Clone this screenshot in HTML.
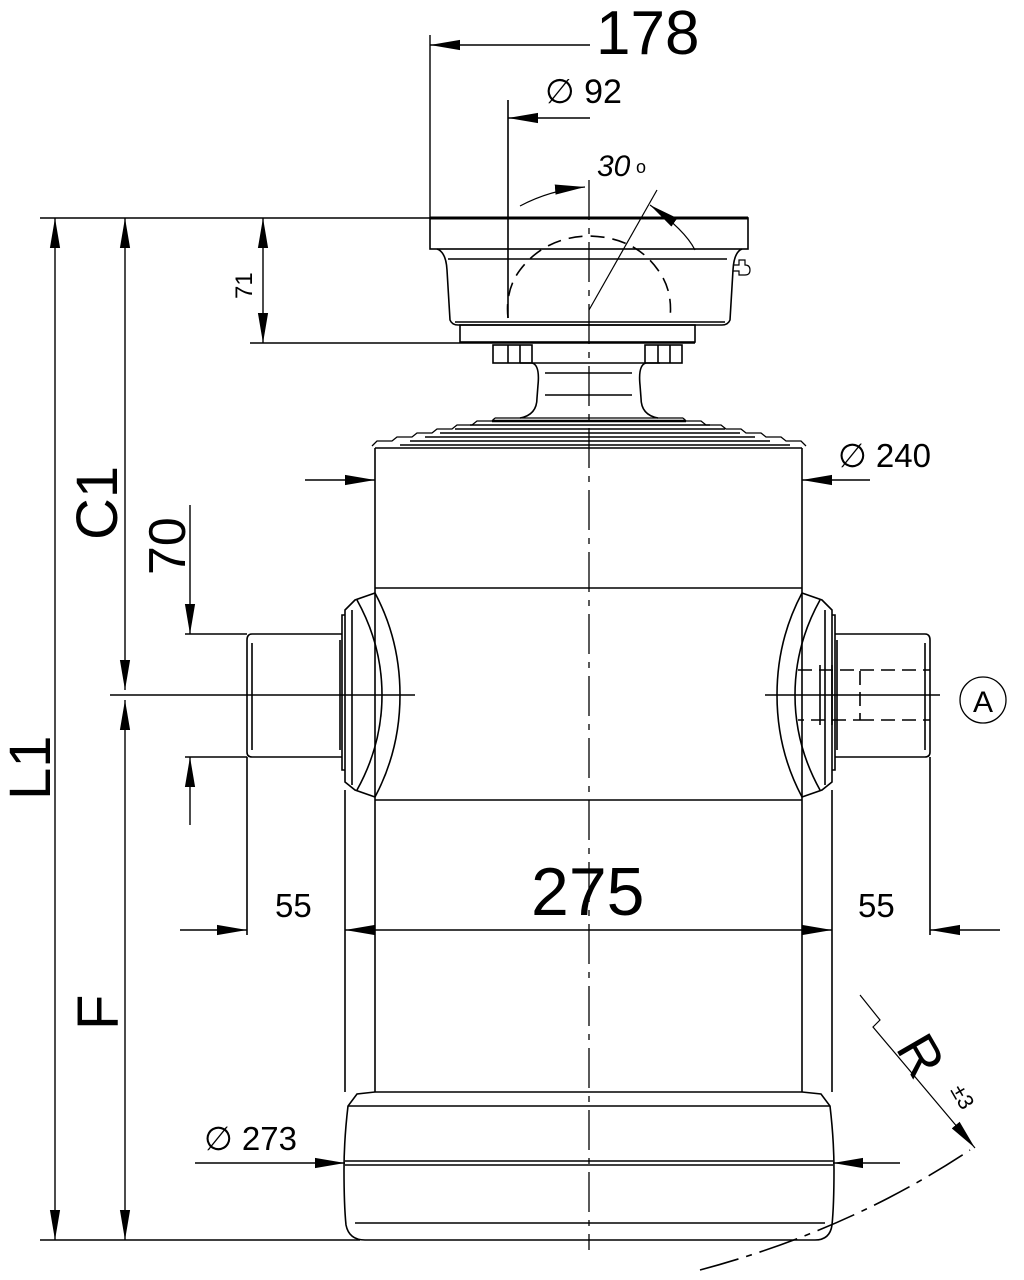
<!DOCTYPE html>
<html><head><meta charset="utf-8"><style>
html,body{margin:0;padding:0;background:#fff}
svg{display:block}
text{font-family:"Liberation Sans",sans-serif;fill:#000}
</style></head><body>
<svg width="1024" height="1280" viewBox="0 0 1024 1280" xmlns="http://www.w3.org/2000/svg">
<defs>
<marker id="b" viewBox="0 0 10 10" refX="10" refY="5" markerWidth="30" markerHeight="30" orient="auto-start-reverse" markerUnits="userSpaceOnUse"><path d="M0,3.3 L10,5 L0,6.7z"/></marker>
</defs>
<g fill="none" stroke="#000" stroke-width="1.6">
<line x1="589" y1="180" x2="589" y2="1250" stroke-width="1.3" stroke-dasharray="40,8,6,8"/>
<line x1="40" y1="218" x2="748" y2="218"/>
<line x1="430" y1="218" x2="748" y2="218" stroke-width="3"/>
<rect x="430" y="218" width="318" height="31"/>
<path d="M437,249 Q446,252 447,270 L450,320 Q452,325 458,325 L722,325 Q728,325 730,320 L733,270 Q734,252 742,249"/>
<line x1="448" y1="259" x2="727" y2="259"/>
<line x1="455" y1="322" x2="725" y2="322"/>
<rect x="460" y="325" width="235" height="17"/>
<line x1="250" y1="343" x2="695" y2="343"/>
<path d="M733,265 h6 v-5 h6 v5 q5,0 5,5 q0,5 -5,5 v0 h-6 v-4 h-6" stroke-width="1.2"/>
<path d="M508,318 Q505,290 520,270 Q545,237 589,236 Q635,237 658,270 Q673,290 670,318" stroke-dasharray="14,8"/>
<line x1="508" y1="100" x2="508" y2="318"/>
<line x1="589" y1="310" x2="657" y2="190" stroke-width="1.2"/>
<path d="M520,206 Q550,190 585,187" marker-end="url(#b)" stroke-width="1.2"/>
<path d="M695,250 Q685,230 650,205" marker-end="url(#b)" stroke-width="1.2"/>
<rect x="493" y="345" width="39" height="18"/><line x1="508" y1="345" x2="508" y2="363"/><line x1="520" y1="345" x2="520" y2="363"/>
<rect x="645" y="345" width="37" height="18"/><line x1="658" y1="345" x2="658" y2="363"/><line x1="670" y1="345" x2="670" y2="363"/>
<line x1="520" y1="363" x2="660" y2="363"/>
<path d="M532,363 Q540,365 538,385 L537,398 Q537,415 520,418 M646,363 Q638,365 640,385 L641,398 Q641,415 658,418"/>
<line x1="545" y1="373" x2="632" y2="373"/><line x1="545" y1="395" x2="632" y2="395"/>
<path d="M495,418 h188 M495,418 l-3,3 h-15 l-5,4 h-15 l-5,4 h-15 l-5,4 h-15 l-5,4 h-15 l-5,4 h-15 l-5,5 M683,418 l3,3 h15 l5,4 h15 l5,4 h15 l5,4 h15 l5,4 h15 l5,4 h15 l5,5" stroke-width="1.3"/>
<line x1="492" y1="421" x2="686" y2="421" stroke-width="2.5"/>
<line x1="470" y1="425" x2="710" y2="425"/><line x1="455" y1="429" x2="725" y2="429"/><line x1="440" y1="433" x2="740" y2="433"/><line x1="425" y1="437" x2="755" y2="437"/><line x1="410" y1="441" x2="770" y2="441"/><line x1="400" y1="445" x2="790" y2="445"/>
<line x1="375" y1="448" x2="802" y2="448"/>
<line x1="375" y1="448" x2="375" y2="1092"/>
<line x1="802" y1="448" x2="802" y2="1092"/>
<line x1="375" y1="588" x2="802" y2="588"/>
<line x1="375" y1="800" x2="802" y2="800"/>
<line x1="375" y1="1092" x2="802" y2="1092"/>
<path d="M375,593 Q400,640 400,695 Q400,750 375,797"/>
<path d="M357,600 Q382,645 382,695 Q382,745 357,790"/>
<path d="M375,593 L355,600 L345,610 L345,782 L355,790 L375,797"/>
<line x1="352" y1="610" x2="352" y2="785"/>
<path d="M345,615 h-3 v155 h3"/>
<path d="M342,634 H252 Q247,634 247,640 V752 Q247,757 252,757 H342"/>
<line x1="252" y1="643" x2="252" y2="750"/>
<line x1="340" y1="640" x2="340" y2="750"/>
<line x1="247" y1="757" x2="247" y2="935"/>
<line x1="345" y1="790" x2="345" y2="1092"/>
<line x1="110" y1="695" x2="415" y2="695"/>
<path d="M802,593 Q777,640 777,695 Q777,750 802,797"/>
<path d="M820,600 Q795,645 795,695 Q795,745 820,790"/>
<path d="M802,593 L822,600 L832,610 L832,782 L822,790 L802,797"/>
<line x1="825" y1="610" x2="825" y2="785"/>
<path d="M832,615 h3 v155 h-3"/>
<path d="M835,634 H925 Q930,634 930,640 V752 Q930,757 925,757 H835"/>
<line x1="925" y1="643" x2="925" y2="750"/>
<line x1="837" y1="640" x2="837" y2="750"/>
<line x1="930" y1="757" x2="930" y2="935"/>
<line x1="832" y1="790" x2="832" y2="1092"/>
<line x1="765" y1="695" x2="940" y2="695"/>
<path d="M798,670 H860 V720 H798 M860,670 H930 M860,720 H930" stroke-dasharray="14,7"/>
<line x1="820" y1="665" x2="820" y2="725"/><line x1="832" y1="665" x2="832" y2="725"/>
<circle cx="983" cy="700" r="23" stroke-width="1.3"/>
<path d="M375,1092 L357,1094 L348,1106 Q344,1140 344,1170 Q344,1205 346,1225 Q349,1240 365,1240 L815,1240 Q830,1240 832,1225 Q834,1205 834,1170 Q834,1140 830,1106 L821,1094 L802,1092"/>
<line x1="348" y1="1106" x2="830" y2="1106"/>
<line x1="345" y1="1161" x2="833" y2="1161"/><line x1="345" y1="1165" x2="833" y2="1165"/>
<line x1="355" y1="1223" x2="825" y2="1223"/>
<line x1="40" y1="1240" x2="360" y2="1240"/>
<path d="M700,1270 Q850,1230 970,1150" stroke-dasharray="40,8,6,8"/>
<path d="M860,995 L880,1020 L873,1027 L975,1148" marker-end="url(#b)" stroke-width="1.2"/>
</g>
<g stroke="#000" stroke-width="1.4" fill="none">
<line x1="55" y1="218" x2="55" y2="1240" marker-start="url(#b)" marker-end="url(#b)"/>
<line x1="125" y1="218" x2="125" y2="690" marker-start="url(#b)" marker-end="url(#b)"/>
<line x1="125" y1="700" x2="125" y2="1240" marker-start="url(#b)" marker-end="url(#b)"/>
<line x1="263" y1="218" x2="263" y2="343" marker-start="url(#b)" marker-end="url(#b)"/>
<line x1="430" y1="35" x2="430" y2="218"/>
<line x1="590" y1="45" x2="430" y2="45" marker-end="url(#b)"/>
<line x1="590" y1="118" x2="508" y2="118" marker-end="url(#b)"/>
<line x1="190" y1="505" x2="190" y2="634" marker-end="url(#b)"/>
<line x1="190" y1="825" x2="190" y2="757" marker-end="url(#b)"/>
<line x1="185" y1="634" x2="247" y2="634"/>
<line x1="185" y1="757" x2="247" y2="757"/>
<line x1="305" y1="480" x2="375" y2="480" marker-end="url(#b)"/>
<line x1="870" y1="480" x2="802" y2="480" marker-end="url(#b)"/>
<line x1="180" y1="930" x2="247" y2="930" marker-end="url(#b)"/>
<line x1="345" y1="930" x2="832" y2="930" marker-start="url(#b)" marker-end="url(#b)"/>
<line x1="1000" y1="930" x2="930" y2="930" marker-end="url(#b)"/>
<line x1="195" y1="1163" x2="345" y2="1163" marker-end="url(#b)"/>
<line x1="900" y1="1163" x2="833" y2="1163" marker-end="url(#b)"/>
</g>
<text x="596" y="54" font-size="62">178</text>
<text x="545" y="103" font-size="34">∅ 92</text>
<text x="597" y="176" font-size="30" font-style="italic">30</text>
<text x="636" y="173" font-size="18">o</text>
<text transform="translate(252,299) rotate(-90)" font-size="24">71</text>
<text transform="translate(117,540) rotate(-90)" font-size="58">C1</text>
<text transform="translate(185,575) rotate(-90)" font-size="52">70</text>
<text transform="translate(50,800) rotate(-90)" font-size="58">L1</text>
<text transform="translate(118,1030) rotate(-90)" font-size="58">F</text>
<text x="531" y="915" font-size="68">275</text>
<text x="275" y="917" font-size="33">55</text>
<text x="858" y="917" font-size="33">55</text>
<text x="838" y="467" font-size="33">∅ 240</text>
<text x="204" y="1150" font-size="33">∅ 273</text>
<text x="973" y="712" font-size="30">A</text>
<text transform="translate(895,1048) rotate(60)" font-size="54">R</text>
<text transform="translate(950,1090) rotate(60)" font-size="22">±3</text>
</svg>
</body></html>
